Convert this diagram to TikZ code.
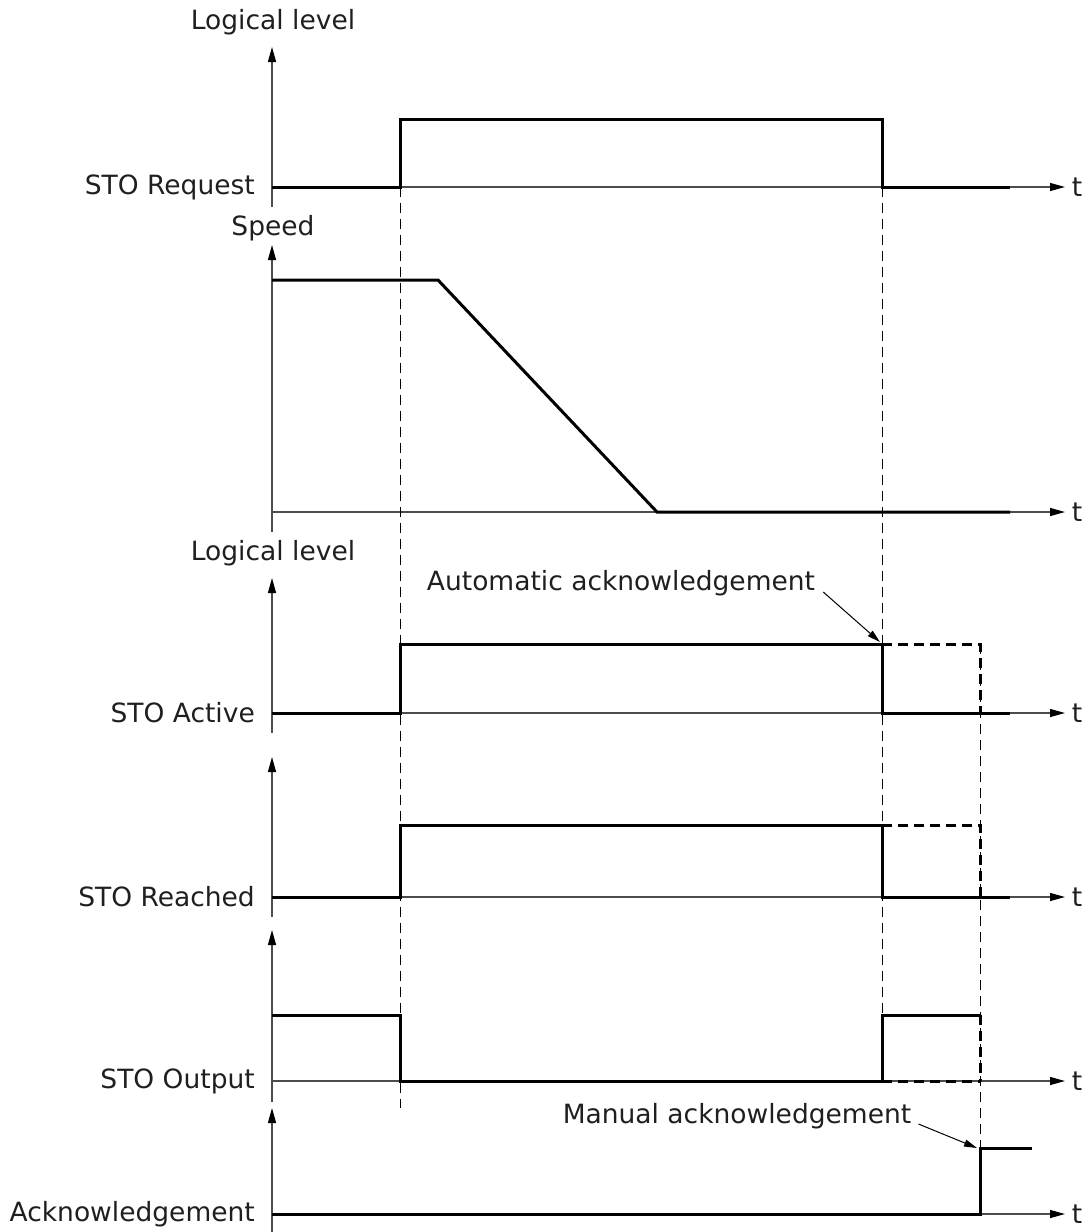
\documentclass[tikz,border=0pt]{standalone}
\usepackage{fontspec}
\setmainfont{DejaVu Sans}
\usetikzlibrary{arrows.meta}
\begin{document}
\begin{tikzpicture}[x=1pt,y=-1pt,
  ax/.style={line width=1.2pt, black!70, -{Triangle[length=15pt,width=8pt,black]}},
  sig/.style={line width=3pt, line join=miter},
  sigdash/.style={sig, dash pattern=on 10pt off 6pt},
  guide/.style={line width=1pt, dash pattern=on 10pt off 6pt},
  lab/.style={font=\fontsize{26.5}{30}\selectfont, inner sep=0pt, text=black!88},
  note/.style={line width=1pt, -{Triangle[length=13pt,width=7pt]}}]
\useasboundingbox (0,0) rectangle (1089,1232);

% y axes
\foreach \bot/\top [count=\i] in {207/47, 532/245, 733/578, 917/757, 1102/930, 1232/1108}
  \draw[ax] (272,\bot) -- (272,\top);
% time axes
\foreach \b [count=\i] in {187,512,713,897,1081,1214}{
  \draw[ax] (272,\b) -- (1065,\b);
  \node[lab] (t\i) at (1077,\b) {t};
}

% axis titles
\node[lab] (ll1) at (273,22) {Logical level};
\node[lab] (spd) at (273,228) {Speed};
\node[lab] (ll2) at (273,553) {Logical level};

% signal names
\node[lab, anchor=east] (req) at (255,187) {STO Request};
\node[lab, anchor=east] (act) at (255,713) {STO Active};
\node[lab, anchor=east] (rch) at (255,897) {STO Reached};
\node[lab, anchor=east] (out) at (255,1081) {STO Output};
\node[lab, anchor=east] (ack) at (255,1214) {Acknowledgement};

% guides
\draw[guide] (400,187) -- (400,1108);
\draw[guide] (882,187) -- (882,1081);
\draw[guide] (980,644) -- (980,1148);

% STO Request
\draw[sig] (272,187) -- (400,187) -- (400,119) -- (882,119) -- (882,187) -- (1010,187);
% Speed
\draw[sig] (272,280) -- (438,280) -- (657,512) -- (1010,512);
% STO Active
\draw[sig] (272,713) -- (400,713) -- (400,644) -- (882,644) -- (882,713) -- (1010,713);
\draw[sigdash] (882,644) -- (980,644) -- (980,713);
% STO Reached
\draw[sig] (272,897) -- (400,897) -- (400,825) -- (882,825) -- (882,897) -- (1010,897);
\draw[sigdash] (882,825) -- (980,825) -- (980,897);
% STO Output
\draw[sig] (272,1015) -- (400,1015) -- (400,1081) -- (882,1081) -- (882,1015) -- (980,1015);
\draw[sigdash] (882,1081) -- (980,1081);
\draw[sigdash] (980,1015) -- (980,1081);
% Acknowledgement
\draw[sig] (272,1214) -- (980,1214) -- (980,1148) -- (1032,1148);

% notes
\node[lab] (auto) at (621,583) {Automatic acknowledgement};
\coordinate (autop) at (880,642);
\draw[note] (auto.east) ++(8,9) -- (autop);
\node[lab] (man) at (737,1116) {Manual acknowledgement};
\coordinate (manp) at (977,1148);
\draw[note] (man.east) ++(7,8) -- (manp);
\end{tikzpicture}
\end{document}
